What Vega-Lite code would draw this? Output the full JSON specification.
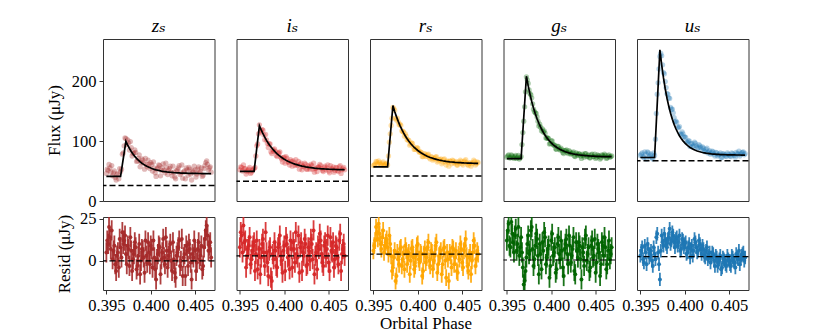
{
"$schema":"https://vega.github.io/schema/vega-lite/v6.json",
"padding":{"left":45,"top":17,"right":5,"bottom":5},
"config":{
 "font":"Liberation Serif, Times New Roman, DejaVu Serif, serif",
 "view":{"stroke":"#333","strokeWidth":1},
 "axis":{"grid":false,"domain":false,"tickColor":"#333","tickSize":4,"tickWidth":1,"labelFont":"Liberation Serif, Times New Roman, DejaVu Serif, serif","labelFontSize":16.5,"labelColor":"#000","titleFont":"Liberation Serif, Times New Roman, DejaVu Serif, serif","titleFontSize":17,"titleFontWeight":"normal","titleColor":"#000","labelPadding":3}
},
"datasets":{
"bands":[{"b":"z","d":26,"rd":0,"err":6},{"b":"i","d":33,"rd":3,"err":6},{"b":"r","d":41.5,"rd":4,"err":5},{"b":"g","d":53.5,"rd":0.5,"err":6},{"b":"u","d":67,"rd":2.5,"err":4}],
"obs":[
{"b":"z","p":0.395,"m":41,"f":46,"r":5},{"b":"z","p":0.3952,"m":41,"f":51,"r":10},{"b":"z","p":0.3954,"m":41,"f":55,"r":14},{"b":"z","p":0.3956,"m":41,"f":59,"r":18},{"b":"z","p":0.3958,"m":41,"f":47,"r":6},{"b":"z","p":0.396,"m":41,"f":39,"r":-2},{"b":"z","p":0.3962,"m":41,"f":44,"r":3},{"b":"z","p":0.3964,"m":41,"f":37,"r":-4},{"b":"z","p":0.3966,"m":41,"f":49,"r":8},{"b":"z","p":0.3968,"m":60.5,"f":78,"r":17},
{"b":"z","p":0.397,"m":80,"f":92,"r":12},{"b":"z","p":0.3972,"m":99.5,"f":104,"r":4},{"b":"z","p":0.3974,"m":93.2,"f":102,"r":9},{"b":"z","p":0.3976,"m":87.6,"f":85,"r":-3},{"b":"z","p":0.3978,"m":82.6,"f":89,"r":6},{"b":"z","p":0.398,"m":78.3,"f":79,"r":1},{"b":"z","p":0.3982,"m":74.4,"f":85,"r":11},{"b":"z","p":0.3984,"m":71,"f":66,"r":-5},{"b":"z","p":0.3986,"m":68,"f":71,"r":3},{"b":"z","p":0.3988,"m":65.4,"f":57,"r":-8},
{"b":"z","p":0.399,"m":63,"f":70,"r":7},{"b":"z","p":0.3992,"m":61,"f":63,"r":2},{"b":"z","p":0.3994,"m":59.2,"f":71,"r":12},{"b":"z","p":0.3996,"m":57.5,"f":57,"r":-1},{"b":"z","p":0.3998,"m":56.1,"f":61,"r":5},{"b":"z","p":0.4,"m":54.9,"f":64,"r":9},{"b":"z","p":0.4002,"m":53.8,"f":50,"r":-4},{"b":"z","p":0.4004,"m":52.8,"f":55,"r":2},{"b":"z","p":0.4006,"m":51.9,"f":41,"r":-11},{"b":"z","p":0.4008,"m":51.2,"f":55,"r":4},
{"b":"z","p":0.401,"m":50.5,"f":59,"r":8},{"b":"z","p":0.4012,"m":49.9,"f":51,"r":1},{"b":"z","p":0.4014,"m":49.4,"f":62,"r":13},{"b":"z","p":0.4016,"m":49,"f":47,"r":-2},{"b":"z","p":0.4018,"m":48.5,"f":55,"r":6},{"b":"z","p":0.402,"m":48.2,"f":51,"r":3},{"b":"z","p":0.4022,"m":47.9,"f":58,"r":10},{"b":"z","p":0.4024,"m":47.6,"f":42,"r":-6},{"b":"z","p":0.4026,"m":47.3,"f":48,"r":1},{"b":"z","p":0.4028,"m":47.1,"f":37,"r":-10},
{"b":"z","p":0.403,"m":46.9,"f":52,"r":5},{"b":"z","p":0.4032,"m":46.8,"f":59,"r":12},{"b":"z","p":0.4034,"m":46.6,"f":47,"r":0},{"b":"z","p":0.4036,"m":46.5,"f":38,"r":-9},{"b":"z","p":0.4038,"m":46.4,"f":50,"r":4},{"b":"z","p":0.404,"m":46.3,"f":55,"r":9},{"b":"z","p":0.4042,"m":46.2,"f":43,"r":-3},{"b":"z","p":0.4044,"m":46.1,"f":53,"r":7},{"b":"z","p":0.4046,"m":46,"f":35,"r":-11},{"b":"z","p":0.4048,"m":46,"f":48,"r":2},
{"b":"z","p":0.405,"m":45.9,"f":52,"r":6},{"b":"z","p":0.4052,"m":45.9,"f":45,"r":-1},{"b":"z","p":0.4054,"m":45.8,"f":57,"r":11},{"b":"z","p":0.4056,"m":45.8,"f":49,"r":3},{"b":"z","p":0.4058,"m":45.7,"f":41,"r":-5},{"b":"z","p":0.406,"m":45.7,"f":54,"r":8},{"b":"z","p":0.4062,"m":45.7,"f":64,"r":18},{"b":"z","p":0.4064,"m":45.7,"f":61,"r":15},{"b":"z","p":0.4066,"m":45.6,"f":55,"r":9},{"b":"z","p":0.4068,"m":45.6,"f":48,"r":2},
{"b":"z","p":0.3951,"f":53,"r":12},{"b":"z","p":0.3953,"f":61,"r":20},{"b":"z","p":0.3955,"f":48,"r":7},{"b":"z","p":0.3957,"f":42,"r":1},{"b":"z","p":0.3959,"f":50,"r":9},{"b":"z","p":0.3961,"f":35,"r":-6},{"b":"z","p":0.3963,"f":46,"r":5},{"b":"z","p":0.3965,"f":54,"r":13},{"b":"z","p":0.3967,"f":53,"r":2},{"b":"z","p":0.3969,"f":80,"r":10},
{"b":"z","p":0.3971,"f":105,"r":15},{"b":"z","p":0.3973,"f":94,"r":-2},{"b":"z","p":0.3975,"f":97,"r":7},{"b":"z","p":0.3977,"f":99,"r":14},{"b":"z","p":0.3979,"f":75,"r":-6},{"b":"z","p":0.3981,"f":80,"r":4},{"b":"z","p":0.3983,"f":81,"r":8},{"b":"z","p":0.3985,"f":67,"r":-3},{"b":"z","p":0.3987,"f":77,"r":10},{"b":"z","p":0.3989,"f":64,"r":0},
{"b":"z","p":0.3991,"f":68,"r":6},{"b":"z","p":0.3993,"f":53,"r":-7},{"b":"z","p":0.3995,"f":61,"r":3},{"b":"z","p":0.3997,"f":68,"r":11},{"b":"z","p":0.3999,"f":54,"r":-2},{"b":"z","p":0.4001,"f":61,"r":7},{"b":"z","p":0.4003,"f":65,"r":12},{"b":"z","p":0.4005,"f":47,"r":-5},{"b":"z","p":0.4007,"f":53,"r":1},{"b":"z","p":0.4009,"f":60,"r":9},
{"b":"z","p":0.4011,"f":42,"r":-8},{"b":"z","p":0.4013,"f":55,"r":5},{"b":"z","p":0.4015,"f":51,"r":2},{"b":"z","p":0.4017,"f":63,"r":14},{"b":"z","p":0.4019,"f":44,"r":-4},{"b":"z","p":0.4021,"f":54,"r":6},{"b":"z","p":0.4023,"f":48,"r":0},{"b":"z","p":0.4025,"f":58,"r":11},{"b":"z","p":0.4027,"f":40,"r":-7},{"b":"z","p":0.4029,"f":50,"r":3},
{"b":"z","p":0.4031,"f":55,"r":8},{"b":"z","p":0.4033,"f":44,"r":-3},{"b":"z","p":0.4035,"f":60,"r":13},{"b":"z","p":0.4037,"f":48,"r":2},{"b":"z","p":0.4039,"f":37,"r":-9},{"b":"z","p":0.4041,"f":52,"r":6},{"b":"z","p":0.4043,"f":56,"r":10},{"b":"z","p":0.4045,"f":45,"r":-1},{"b":"z","p":0.4047,"f":50,"r":4},{"b":"z","p":0.4049,"f":58,"r":12},
{"b":"z","p":0.4051,"f":40,"r":-6},{"b":"z","p":0.4053,"f":53,"r":7},{"b":"z","p":0.4055,"f":47,"r":1},{"b":"z","p":0.4057,"f":55,"r":9},{"b":"z","p":0.4059,"f":43,"r":-3},{"b":"z","p":0.4061,"f":59,"r":13},{"b":"z","p":0.4063,"f":67,"r":21},{"b":"z","p":0.4065,"f":52,"r":6},{"b":"z","p":0.4067,"f":57,"r":11},

{"b":"i","p":0.395,"m":49.5,"f":52,"r":8},{"b":"i","p":0.3952,"m":49.5,"f":56,"r":15},{"b":"i","p":0.3954,"m":49.5,"f":60,"r":21},{"b":"i","p":0.3956,"m":49.5,"f":54,"r":12},{"b":"i","p":0.3958,"m":49.5,"f":49,"r":3},{"b":"i","p":0.396,"m":49.5,"f":53,"r":9},{"b":"i","p":0.3962,"m":49.5,"f":46,"r":-2},{"b":"i","p":0.3964,"m":49.5,"f":51,"r":6},{"b":"i","p":0.3966,"m":49.5,"f":54,"r":11},{"b":"i","p":0.3968,"m":74.8,"f":75,"r":4},
{"b":"i","p":0.397,"m":100.2,"f":95,"r":-5},{"b":"i","p":0.3972,"m":125.5,"f":127,"r":7},{"b":"i","p":0.3974,"m":118.5,"f":117,"r":2},{"b":"i","p":0.3976,"m":112.1,"f":118,"r":13},{"b":"i","p":0.3978,"m":106.3,"f":102,"r":-3},{"b":"i","p":0.398,"m":101.1,"f":102,"r":5},{"b":"i","p":0.3982,"m":96.4,"f":89,"r":-9},{"b":"i","p":0.3984,"m":92.1,"f":95,"r":8},{"b":"i","p":0.3986,"m":88.2,"f":79,"r":-12},{"b":"i","p":0.3988,"m":84.7,"f":83,"r":1},
{"b":"i","p":0.399,"m":81.6,"f":83,"r":6},{"b":"i","p":0.3992,"m":78.7,"f":74,"r":-4},{"b":"i","p":0.3994,"m":76.1,"f":80,"r":10},{"b":"i","p":0.3996,"m":73.8,"f":73,"r":3},{"b":"i","p":0.3998,"m":71.7,"f":65,"r":-7},{"b":"i","p":0.4,"m":69.7,"f":73,"r":9},{"b":"i","p":0.4002,"m":68,"f":74,"r":14},{"b":"i","p":0.4004,"m":66.4,"f":65,"r":2},{"b":"i","p":0.4006,"m":65,"f":60,"r":-5},{"b":"i","p":0.4008,"m":63.7,"f":66,"r":7},
{"b":"i","p":0.401,"m":62.6,"f":67,"r":11},{"b":"i","p":0.4012,"m":61.5,"f":59,"r":-1},{"b":"i","p":0.4014,"m":60.6,"f":61,"r":4},{"b":"i","p":0.4016,"m":59.7,"f":66,"r":15},{"b":"i","p":0.4018,"m":58.9,"f":61,"r":8},{"b":"i","p":0.402,"m":58.2,"f":52,"r":-6},{"b":"i","p":0.4022,"m":57.6,"f":57,"r":3},{"b":"i","p":0.4024,"m":57,"f":61,"r":10},{"b":"i","p":0.4026,"m":56.5,"f":53,"r":-2},{"b":"i","p":0.4028,"m":56,"f":57,"r":6},
{"b":"i","p":0.403,"m":55.6,"f":61,"r":13},{"b":"i","p":0.4032,"m":55.2,"f":53,"r":1},{"b":"i","p":0.4034,"m":54.8,"f":48,"r":-8},{"b":"i","p":0.4036,"m":54.5,"f":55,"r":5},{"b":"i","p":0.4038,"m":54.2,"f":57,"r":9},{"b":"i","p":0.404,"m":54,"f":61,"r":16},{"b":"i","p":0.4042,"m":53.7,"f":54,"r":4},{"b":"i","p":0.4044,"m":53.5,"f":49,"r":-3},{"b":"i","p":0.4046,"m":53.3,"f":58,"r":11},{"b":"i","p":0.4048,"m":53.2,"f":55,"r":7},
{"b":"i","p":0.405,"m":53,"f":50,"r":-1},{"b":"i","p":0.4052,"m":52.9,"f":59,"r":14},{"b":"i","p":0.4054,"m":52.7,"f":53,"r":5},{"b":"i","p":0.4056,"m":52.6,"f":48,"r":-4},{"b":"i","p":0.4058,"m":52.5,"f":56,"r":9},{"b":"i","p":0.406,"m":52.4,"f":51,"r":2},{"b":"i","p":0.4062,"m":52.3,"f":57,"r":12},{"b":"i","p":0.4064,"m":52.2,"f":46,"r":-6},{"b":"i","p":0.4066,"m":52.2,"f":54,"r":7},{"b":"i","p":0.4068,"m":52.1,"f":52,"r":3},
{"b":"i","p":0.3951,"f":57,"r":17},{"b":"i","p":0.3953,"f":50,"r":5},{"b":"i","p":0.3955,"f":54,"r":11},{"b":"i","p":0.3957,"f":45,"r":-4},{"b":"i","p":0.3959,"f":51,"r":7},{"b":"i","p":0.3961,"f":56,"r":14},{"b":"i","p":0.3963,"f":48,"r":1},{"b":"i","p":0.3965,"f":53,"r":9},{"b":"i","p":0.3967,"f":56,"r":-6},{"b":"i","p":0.3969,"f":92,"r":12},
{"b":"i","p":0.3971,"f":112,"r":3},{"b":"i","p":0.3973,"f":115,"r":-8},{"b":"i","p":0.3975,"f":119,"r":10},{"b":"i","p":0.3977,"f":110,"r":5},{"b":"i","p":0.3979,"f":111,"r":17},{"b":"i","p":0.3981,"f":96,"r":-1},{"b":"i","p":0.3983,"f":95,"r":6},{"b":"i","p":0.3985,"f":82,"r":-10},{"b":"i","p":0.3987,"f":86,"r":4},{"b":"i","p":0.3989,"f":87,"r":11},
{"b":"i","p":0.3991,"f":76,"r":-3},{"b":"i","p":0.3993,"f":80,"r":8},{"b":"i","p":0.3995,"f":82,"r":15},{"b":"i","p":0.3997,"f":70,"r":0},{"b":"i","p":0.3999,"f":72,"r":6},{"b":"i","p":0.4001,"f":63,"r":-6},{"b":"i","p":0.4003,"f":71,"r":10},{"b":"i","p":0.4005,"f":65,"r":3},{"b":"i","p":0.4007,"f":69,"r":12},{"b":"i","p":0.4009,"f":58,"r":-4},
{"b":"i","p":0.4011,"f":64,"r":7},{"b":"i","p":0.4013,"f":69,"r":17},{"b":"i","p":0.4015,"f":59,"r":2},{"b":"i","p":0.4017,"f":53,"r":-7},{"b":"i","p":0.4019,"f":63,"r":11},{"b":"i","p":0.4021,"f":58,"r":5},{"b":"i","p":0.4023,"f":63,"r":13},{"b":"i","p":0.4025,"f":53,"r":-3},{"b":"i","p":0.4027,"f":59,"r":8},{"b":"i","p":0.4029,"f":53,"r":0},
{"b":"i","p":0.4031,"f":59,"r":10},{"b":"i","p":0.4033,"f":63,"r":18},{"b":"i","p":0.4035,"f":54,"r":3},{"b":"i","p":0.4037,"f":49,"r":-5},{"b":"i","p":0.4039,"f":56,"r":7},{"b":"i","p":0.4041,"f":59,"r":12},{"b":"i","p":0.4043,"f":51,"r":-1},{"b":"i","p":0.4045,"f":56,"r":9},{"b":"i","p":0.4047,"f":52,"r":2},{"b":"i","p":0.4049,"f":60,"r":15},
{"b":"i","p":0.4051,"f":47,"r":-6},{"b":"i","p":0.4053,"f":54,"r":6},{"b":"i","p":0.4055,"f":57,"r":11},{"b":"i","p":0.4057,"f":51,"r":1},{"b":"i","p":0.4059,"f":55,"r":8},{"b":"i","p":0.4061,"f":49,"r":-2},{"b":"i","p":0.4063,"f":59,"r":16},{"b":"i","p":0.4065,"f":52,"r":4},{"b":"i","p":0.4067,"f":56,"r":10},

{"b":"r","p":0.395,"m":57,"f":59,"r":6},{"b":"r","p":0.3952,"m":57,"f":62,"r":12},{"b":"r","p":0.3954,"m":57,"f":65,"r":17},{"b":"r","p":0.3956,"m":57,"f":67,"r":22},{"b":"r","p":0.3958,"m":57,"f":61,"r":10},{"b":"r","p":0.396,"m":57,"f":63,"r":14},{"b":"r","p":0.3962,"m":57,"f":59,"r":5},{"b":"r","p":0.3964,"m":57,"f":62,"r":11},{"b":"r","p":0.3966,"m":57,"f":60,"r":8},{"b":"r","p":0.3968,"m":91,"f":98,"r":15},
{"b":"r","p":0.397,"m":125,"f":126,"r":3},{"b":"r","p":0.3972,"m":159,"f":156,"r":-4},{"b":"r","p":0.3974,"m":149.3,"f":151,"r":6},{"b":"r","p":0.3976,"m":140.6,"f":135,"r":-9},{"b":"r","p":0.3978,"m":132.7,"f":132,"r":1},{"b":"r","p":0.398,"m":125.7,"f":128,"r":7},{"b":"r","p":0.3982,"m":119.3,"f":117,"r":-3},{"b":"r","p":0.3984,"m":113.6,"f":115,"r":4},{"b":"r","p":0.3986,"m":108.4,"f":112,"r":9},{"b":"r","p":0.3988,"m":103.8,"f":102,"r":-2},
{"b":"r","p":0.399,"m":99.6,"f":101,"r":5},{"b":"r","p":0.3992,"m":95.9,"f":95,"r":0},{"b":"r","p":0.3994,"m":92.5,"f":96,"r":8},{"b":"r","p":0.3996,"m":89.4,"f":86,"r":-5},{"b":"r","p":0.3998,"m":86.7,"f":87,"r":3},{"b":"r","p":0.4,"m":84.2,"f":88,"r":10},{"b":"r","p":0.4002,"m":82,"f":81,"r":-1},{"b":"r","p":0.4004,"m":80,"f":81,"r":4},{"b":"r","p":0.4006,"m":78.2,"f":74,"r":-6},{"b":"r","p":0.4008,"m":76.6,"f":79,"r":7},
{"b":"r","p":0.401,"m":75.1,"f":75,"r":2},{"b":"r","p":0.4012,"m":73.8,"f":78,"r":11},{"b":"r","p":0.4014,"m":72.6,"f":70,"r":-3},{"b":"r","p":0.4016,"m":71.6,"f":73,"r":5},{"b":"r","p":0.4018,"m":70.6,"f":70,"r":0},{"b":"r","p":0.402,"m":69.8,"f":73,"r":9},{"b":"r","p":0.4022,"m":69,"f":65,"r":-7},{"b":"r","p":0.4024,"m":68.3,"f":69,"r":3},{"b":"r","p":0.4026,"m":67.7,"f":70,"r":6},{"b":"r","p":0.4028,"m":67.1,"f":65,"r":-2},
{"b":"r","p":0.403,"m":66.6,"f":70,"r":8},{"b":"r","p":0.4032,"m":66.1,"f":60,"r":-10},{"b":"r","p":0.4034,"m":65.7,"f":65,"r":1},{"b":"r","p":0.4036,"m":65.3,"f":67,"r":5},{"b":"r","p":0.4038,"m":65,"f":62,"r":-4},{"b":"r","p":0.404,"m":64.7,"f":67,"r":7},{"b":"r","p":0.4042,"m":64.4,"f":64,"r":2},{"b":"r","p":0.4044,"m":64.2,"f":60,"r":-6},{"b":"r","p":0.4046,"m":64,"f":65,"r":4},{"b":"r","p":0.4048,"m":63.8,"f":68,"r":10},
{"b":"r","p":0.405,"m":63.6,"f":62,"r":-1},{"b":"r","p":0.4052,"m":63.4,"f":65,"r":6},{"b":"r","p":0.4054,"m":63.3,"f":69,"r":13},{"b":"r","p":0.4056,"m":63.2,"f":61,"r":-3},{"b":"r","p":0.4058,"m":63,"f":63,"r":2},{"b":"r","p":0.406,"m":63,"f":58,"r":-8},{"b":"r","p":0.4062,"m":62.9,"f":64,"r":5},{"b":"r","p":0.4064,"m":62.8,"f":66,"r":9},{"b":"r","p":0.4066,"m":62.7,"f":62,"r":1},{"b":"r","p":0.4068,"m":62.6,"f":64,"r":4},
{"b":"r","p":0.3951,"f":60,"r":9},{"b":"r","p":0.3953,"f":66,"r":20},{"b":"r","p":0.3955,"f":62,"r":13},{"b":"r","p":0.3957,"f":64,"r":16},{"b":"r","p":0.3959,"f":60,"r":7},{"b":"r","p":0.3961,"f":65,"r":18},{"b":"r","p":0.3963,"f":61,"r":9},{"b":"r","p":0.3965,"f":63,"r":13},{"b":"r","p":0.3967,"f":75,"r":4},{"b":"r","p":0.3969,"f":112,"r":10},
{"b":"r","p":0.3971,"f":138,"r":-6},{"b":"r","p":0.3973,"f":154,"r":2},{"b":"r","p":0.3975,"f":138,"r":-12},{"b":"r","p":0.3977,"f":138,"r":5},{"b":"r","p":0.3979,"f":127,"r":-2},{"b":"r","p":0.3981,"f":126,"r":8},{"b":"r","p":0.3983,"f":116,"r":1},{"b":"r","p":0.3985,"f":108,"r":-5},{"b":"r","p":0.3987,"f":108,"r":6},{"b":"r","p":0.3989,"f":102,"r":3},
{"b":"r","p":0.3991,"f":93,"r":-8},{"b":"r","p":0.3993,"f":97,"r":7},{"b":"r","p":0.3995,"f":91,"r":2},{"b":"r","p":0.3997,"f":86,"r":-3},{"b":"r","p":0.3999,"f":89,"r":9},{"b":"r","p":0.4001,"f":83,"r":1},{"b":"r","p":0.4003,"f":82,"r":5},{"b":"r","p":0.4005,"f":74,"r":-9},{"b":"r","p":0.4007,"f":78,"r":4},{"b":"r","p":0.4009,"f":74,"r":-1},
{"b":"r","p":0.4011,"f":77,"r":8},{"b":"r","p":0.4013,"f":72,"r":0},{"b":"r","p":0.4015,"f":74,"r":6},{"b":"r","p":0.4017,"f":68,"r":-5},{"b":"r","p":0.4019,"f":71,"r":3},{"b":"r","p":0.4021,"f":74,"r":11},{"b":"r","p":0.4023,"f":67,"r":-2},{"b":"r","p":0.4025,"f":69,"r":4},{"b":"r","p":0.4027,"f":62,"r":-8},{"b":"r","p":0.4029,"f":69,"r":7},
{"b":"r","p":0.4031,"f":65,"r":0},{"b":"r","p":0.4033,"f":67,"r":5},{"b":"r","p":0.4035,"f":58,"r":-12},{"b":"r","p":0.4037,"f":66,"r":3},{"b":"r","p":0.4039,"f":68,"r":8},{"b":"r","p":0.4041,"f":63,"r":-2},{"b":"r","p":0.4043,"f":66,"r":6},{"b":"r","p":0.4045,"f":60,"r":-7},{"b":"r","p":0.4047,"f":63,"r":1},{"b":"r","p":0.4049,"f":66,"r":7},
{"b":"r","p":0.4051,"f":60,"r":-4},{"b":"r","p":0.4053,"f":67,"r":9},{"b":"r","p":0.4055,"f":64,"r":3},{"b":"r","p":0.4057,"f":59,"r":-6},{"b":"r","p":0.4059,"f":64,"r":5},{"b":"r","p":0.4061,"f":62,"r":0},{"b":"r","p":0.4063,"f":68,"r":12},{"b":"r","p":0.4065,"f":60,"r":-3},{"b":"r","p":0.4067,"f":65,"r":6},

{"b":"g","p":0.395,"m":70.5,"f":73,"r":12},{"b":"g","p":0.3952,"m":70.5,"f":77,"r":22},{"b":"g","p":0.3954,"m":70.5,"f":72,"r":8},{"b":"g","p":0.3956,"m":70.5,"f":75,"r":16},{"b":"g","p":0.3958,"m":70.5,"f":71,"r":5},{"b":"g","p":0.396,"m":70.5,"f":76,"r":19},{"b":"g","p":0.3962,"m":70.5,"f":73,"r":10},{"b":"g","p":0.3964,"m":70.5,"f":70,"r":3},{"b":"g","p":0.3966,"m":70.5,"f":74,"r":14},{"b":"g","p":0.3968,"m":116.3,"f":114,"r":-4},
{"b":"g","p":0.397,"m":162.2,"f":157,"r":-12},{"b":"g","p":0.3972,"m":208,"f":207,"r":2},{"b":"g","p":0.3974,"m":192.2,"f":196,"r":15},{"b":"g","p":0.3976,"m":178.2,"f":179,"r":6},{"b":"g","p":0.3978,"m":165.9,"f":172,"r":20},{"b":"g","p":0.398,"m":155.1,"f":153,"r":-3},{"b":"g","p":0.3982,"m":145.5,"f":147,"r":9},{"b":"g","p":0.3984,"m":137,"f":140,"r":13},{"b":"g","p":0.3986,"m":129.6,"f":125,"r":-8},{"b":"g","p":0.3988,"m":123,"f":123,"r":4},
{"b":"g","p":0.399,"m":117.2,"f":120,"r":11},{"b":"g","p":0.3992,"m":112,"f":117,"r":17},{"b":"g","p":0.3994,"m":107.5,"f":105,"r":-2},{"b":"g","p":0.3996,"m":103.5,"f":105,"r":7},{"b":"g","p":0.3998,"m":100,"f":95,"r":-10},{"b":"g","p":0.4,"m":96.9,"f":100,"r":12},{"b":"g","p":0.4002,"m":94.1,"f":94,"r":3},{"b":"g","p":0.4004,"m":91.7,"f":93,"r":8},{"b":"g","p":0.4006,"m":89.6,"f":86,"r":-5},{"b":"g","p":0.4008,"m":87.7,"f":91,"r":14},
{"b":"g","p":0.401,"m":86,"f":85,"r":1},{"b":"g","p":0.4012,"m":84.5,"f":85,"r":6},{"b":"g","p":0.4014,"m":83.2,"f":79,"r":-9},{"b":"g","p":0.4016,"m":82.1,"f":84,"r":10},{"b":"g","p":0.4018,"m":81.1,"f":81,"r":4},{"b":"g","p":0.402,"m":80.2,"f":84,"r":15},{"b":"g","p":0.4022,"m":79.4,"f":78,"r":-1},{"b":"g","p":0.4024,"m":78.7,"f":80,"r":7},{"b":"g","p":0.4026,"m":78.1,"f":75,"r":-6},{"b":"g","p":0.4028,"m":77.6,"f":80,"r":11},
{"b":"g","p":0.403,"m":77.1,"f":76,"r":2},{"b":"g","p":0.4032,"m":76.7,"f":78,"r":9},{"b":"g","p":0.4034,"m":76.3,"f":71,"r":-11},{"b":"g","p":0.4036,"m":76,"f":76,"r":5},{"b":"g","p":0.4038,"m":75.7,"f":79,"r":13},{"b":"g","p":0.404,"m":75.4,"f":74,"r":0},{"b":"g","p":0.4042,"m":75.2,"f":77,"r":8},{"b":"g","p":0.4044,"m":75,"f":72,"r":-4},{"b":"g","p":0.4046,"m":74.8,"f":78,"r":12},{"b":"g","p":0.4048,"m":74.7,"f":74,"r":3},
{"b":"g","p":0.405,"m":74.5,"f":71,"r":-7},{"b":"g","p":0.4052,"m":74.4,"f":77,"r":10},{"b":"g","p":0.4054,"m":74.3,"f":75,"r":5},{"b":"g","p":0.4056,"m":74.2,"f":72,"r":-2},{"b":"g","p":0.4058,"m":74.1,"f":76,"r":9},{"b":"g","p":0.406,"m":74.1,"f":78,"r":14},{"b":"g","p":0.4062,"m":74,"f":71,"r":-5},{"b":"g","p":0.4064,"m":73.9,"f":75,"r":6},{"b":"g","p":0.4066,"m":73.9,"f":73,"r":1},{"b":"g","p":0.4068,"m":73.8,"f":75,"r":8},
{"b":"g","p":0.3951,"f":75,"r":18},{"b":"g","p":0.3953,"f":72,"r":9},{"b":"g","p":0.3955,"f":77,"r":23},{"b":"g","p":0.3957,"f":73,"r":11},{"b":"g","p":0.3959,"f":74,"r":15},{"b":"g","p":0.3961,"f":71,"r":6},{"b":"g","p":0.3963,"f":76,"r":20},{"b":"g","p":0.3965,"f":72,"r":8},{"b":"g","p":0.3967,"f":94,"r":5},{"b":"g","p":0.3969,"f":133,"r":-14},
{"b":"g","p":0.3971,"f":182,"r":-6},{"b":"g","p":0.3973,"f":202,"r":10},{"b":"g","p":0.3975,"f":185,"r":4},{"b":"g","p":0.3977,"f":177,"r":18},{"b":"g","p":0.3979,"f":162,"r":7},{"b":"g","p":0.3981,"f":149,"r":1},{"b":"g","p":0.3983,"f":146,"r":16},{"b":"g","p":0.3985,"f":133,"r":3},{"b":"g","p":0.3987,"f":128,"r":10},{"b":"g","p":0.3989,"f":117,"r":-5},
{"b":"g","p":0.3991,"f":115,"r":6},{"b":"g","p":0.3993,"f":113,"r":14},{"b":"g","p":0.3995,"f":105,"r":2},{"b":"g","p":0.3997,"f":104,"r":9},{"b":"g","p":0.3999,"f":96,"r":-3},{"b":"g","p":0.4001,"f":100,"r":16},{"b":"g","p":0.4003,"f":93,"r":5},{"b":"g","p":0.4005,"f":87,"r":-7},{"b":"g","p":0.4007,"f":91,"r":10},{"b":"g","p":0.4009,"f":87,"r":4},
{"b":"g","p":0.4011,"f":88,"r":12},{"b":"g","p":0.4013,"f":81,"r":-4},{"b":"g","p":0.4015,"f":84,"r":7},{"b":"g","p":0.4017,"f":85,"r":13},{"b":"g","p":0.4019,"f":79,"r":-2},{"b":"g","p":0.4021,"f":82,"r":9},{"b":"g","p":0.4023,"f":79,"r":3},{"b":"g","p":0.4025,"f":82,"r":14},{"b":"g","p":0.4027,"f":74,"r":-8},{"b":"g","p":0.4029,"f":78,"r":6},
{"b":"g","p":0.4031,"f":79,"r":11},{"b":"g","p":0.4033,"f":75,"r":1},{"b":"g","p":0.4035,"f":78,"r":8},{"b":"g","p":0.4037,"f":73,"r":-3},{"b":"g","p":0.4039,"f":79,"r":15},{"b":"g","p":0.4041,"f":75,"r":4},{"b":"g","p":0.4043,"f":72,"r":-6},{"b":"g","p":0.4045,"f":77,"r":9},{"b":"g","p":0.4047,"f":74,"r":2},{"b":"g","p":0.4049,"f":78,"r":13},
{"b":"g","p":0.4051,"f":73,"r":-1},{"b":"g","p":0.4053,"f":75,"r":7},{"b":"g","p":0.4055,"f":70,"r":-9},{"b":"g","p":0.4057,"f":77,"r":11},{"b":"g","p":0.4059,"f":74,"r":3},{"b":"g","p":0.4061,"f":76,"r":8},{"b":"g","p":0.4063,"f":72,"r":-2},{"b":"g","p":0.4065,"f":77,"r":12},{"b":"g","p":0.4067,"f":74,"r":4},

{"b":"u","p":0.395,"m":72.5,"f":76,"r":3},{"b":"u","p":0.3952,"m":72.5,"f":80,"r":8},{"b":"u","p":0.3954,"m":72.5,"f":72,"r":-1},{"b":"u","p":0.3956,"m":72.5,"f":78,"r":5},{"b":"u","p":0.3958,"m":72.5,"f":82,"r":10},{"b":"u","p":0.396,"m":72.5,"f":74,"r":2},{"b":"u","p":0.3962,"m":72.5,"f":78,"r":6},{"b":"u","p":0.3964,"m":72.5,"f":70,"r":-3},{"b":"u","p":0.3966,"m":72.5,"f":76,"r":4},{"b":"u","p":0.3968,"m":132.3,"f":146,"r":14},
{"b":"u","p":0.397,"m":192.2,"f":197,"r":5},{"b":"u","p":0.3972,"m":252,"f":241,"r":-11},{"b":"u","p":0.3974,"m":227,"f":242,"r":15},{"b":"u","p":0.3976,"m":205.5,"f":214,"r":9},{"b":"u","p":0.3978,"m":187.1,"f":199,"r":12},{"b":"u","p":0.398,"m":171.3,"f":179,"r":8},{"b":"u","p":0.3982,"m":157.8,"f":172,"r":14},{"b":"u","p":0.3984,"m":146.2,"f":156,"r":10},{"b":"u","p":0.3986,"m":136.3,"f":153,"r":17},{"b":"u","p":0.3988,"m":127.7,"f":139,"r":11},
{"b":"u","p":0.399,"m":120.4,"f":133,"r":13},{"b":"u","p":0.3992,"m":114.2,"f":123,"r":9},{"b":"u","p":0.3994,"m":108.8,"f":124,"r":15},{"b":"u","p":0.3996,"m":104.2,"f":111,"r":7},{"b":"u","p":0.3998,"m":100.2,"f":112,"r":12},{"b":"u","p":0.4,"m":96.9,"f":107,"r":10},{"b":"u","p":0.4002,"m":94,"f":98,"r":4},{"b":"u","p":0.4004,"m":91.5,"f":100,"r":8},{"b":"u","p":0.4006,"m":89.3,"f":91,"r":2},{"b":"u","p":0.4008,"m":87.5,"f":96,"r":9},
{"b":"u","p":0.401,"m":85.9,"f":92,"r":6},{"b":"u","p":0.4012,"m":84.6,"f":96,"r":11},{"b":"u","p":0.4014,"m":83.4,"f":88,"r":5},{"b":"u","p":0.4016,"m":82.4,"f":94,"r":12},{"b":"u","p":0.4018,"m":81.6,"f":89,"r":7},{"b":"u","p":0.402,"m":80.9,"f":90,"r":9},{"b":"u","p":0.4022,"m":80.3,"f":83,"r":3},{"b":"u","p":0.4024,"m":79.7,"f":86,"r":6},{"b":"u","p":0.4026,"m":79.3,"f":80,"r":1},{"b":"u","p":0.4028,"m":78.9,"f":84,"r":5},
{"b":"u","p":0.403,"m":78.5,"f":80,"r":2},{"b":"u","p":0.4032,"m":78.2,"f":82,"r":4},{"b":"u","p":0.4034,"m":78,"f":75,"r":-3},{"b":"u","p":0.4036,"m":77.8,"f":80,"r":2},{"b":"u","p":0.4038,"m":77.6,"f":77,"r":-1},{"b":"u","p":0.404,"m":77.4,"f":80,"r":3},{"b":"u","p":0.4042,"m":77.3,"f":73,"r":-4},{"b":"u","p":0.4044,"m":77.2,"f":78,"r":1},{"b":"u","p":0.4046,"m":77.1,"f":75,"r":-2},{"b":"u","p":0.4048,"m":77,"f":80,"r":3},
{"b":"u","p":0.405,"m":76.9,"f":77,"r":0},{"b":"u","p":0.4052,"m":76.9,"f":74,"r":-3},{"b":"u","p":0.4054,"m":76.8,"f":79,"r":2},{"b":"u","p":0.4056,"m":76.8,"f":76,"r":-1},{"b":"u","p":0.4058,"m":76.7,"f":81,"r":4},{"b":"u","p":0.406,"m":76.7,"f":78,"r":1},{"b":"u","p":0.4062,"m":76.7,"f":75,"r":-2},{"b":"u","p":0.4064,"m":76.6,"f":80,"r":3},{"b":"u","p":0.4066,"m":76.6,"f":82,"r":5},{"b":"u","p":0.4068,"m":76.6,"f":79,"r":2},
{"b":"u","p":0.3951,"f":78,"r":6},{"b":"u","p":0.3953,"f":74,"r":1},{"b":"u","p":0.3955,"f":82,"r":9},{"b":"u","p":0.3957,"f":70,"r":-2},{"b":"u","p":0.3959,"f":80,"r":7},{"b":"u","p":0.3961,"f":76,"r":4},{"b":"u","p":0.3963,"f":72,"r":0},{"b":"u","p":0.3965,"f":80,"r":8},{"b":"u","p":0.3967,"f":103,"r":1},{"b":"u","p":0.3969,"f":178,"r":16},
{"b":"u","p":0.3971,"f":220,"r":-2},{"b":"u","p":0.3973,"f":246,"r":6},{"b":"u","p":0.3975,"f":227,"r":11},{"b":"u","p":0.3977,"f":212,"r":16},{"b":"u","p":0.3979,"f":189,"r":10},{"b":"u","p":0.3981,"f":178,"r":13},{"b":"u","p":0.3983,"f":171,"r":19},{"b":"u","p":0.3985,"f":153,"r":12},{"b":"u","p":0.3987,"f":147,"r":15},{"b":"u","p":0.3989,"f":132,"r":8},
{"b":"u","p":0.3991,"f":131,"r":14},{"b":"u","p":0.3993,"f":122,"r":11},{"b":"u","p":0.3995,"f":112,"r":6},{"b":"u","p":0.3997,"f":115,"r":13},{"b":"u","p":0.3999,"f":107,"r":8},{"b":"u","p":0.4001,"f":106,"r":11},{"b":"u","p":0.4003,"f":98,"r":5},{"b":"u","p":0.4005,"f":100,"r":10},{"b":"u","p":0.4007,"f":95,"r":7},{"b":"u","p":0.4009,"f":90,"r":3},
{"b":"u","p":0.4011,"f":98,"r":13},{"b":"u","p":0.4013,"f":92,"r":8},{"b":"u","p":0.4015,"f":89,"r":6},{"b":"u","p":0.4017,"f":92,"r":10},{"b":"u","p":0.4019,"f":85,"r":4},{"b":"u","p":0.4021,"f":88,"r":7},{"b":"u","p":0.4023,"f":82,"r":2},{"b":"u","p":0.4025,"f":88,"r":8},{"b":"u","p":0.4027,"f":82,"r":3},{"b":"u","p":0.4029,"f":78,"r":-1},
{"b":"u","p":0.4031,"f":83,"r":5},{"b":"u","p":0.4033,"f":78,"r":0},{"b":"u","p":0.4035,"f":81,"r":3},{"b":"u","p":0.4037,"f":75,"r":-3},{"b":"u","p":0.4039,"f":78,"r":1},{"b":"u","p":0.4041,"f":72,"r":-5},{"b":"u","p":0.4043,"f":79,"r":2},{"b":"u","p":0.4045,"f":77,"r":0},{"b":"u","p":0.4047,"f":74,"r":-3},{"b":"u","p":0.4049,"f":78,"r":1},
{"b":"u","p":0.4051,"f":75,"r":-2},{"b":"u","p":0.4053,"f":80,"r":3},{"b":"u","p":0.4055,"f":77,"r":0},{"b":"u","p":0.4057,"f":73,"r":-4},{"b":"u","p":0.4059,"f":79,"r":2},{"b":"u","p":0.4061,"f":83,"r":6},{"b":"u","p":0.4063,"f":78,"r":1},{"b":"u","p":0.4065,"f":81,"r":4},{"b":"u","p":0.4067,"f":77,"r":0}
]},
"spacing":0,
"vconcat":[
{"data":{"name":"obs"},
 "bounds":"flush",
 "transform":[{"lookup":"b","from":{"data":{"name":"bands"},"key":"b","fields":["d","rd","err"]}}],
 "facet":{"column":{"field":"b","type":"nominal","sort":["z","i","r","g","u"],"header":{"title":null,"labelExpr":"datum.value + 'ₛ'","labelFont":"Liberation Serif, Times New Roman, DejaVu Serif, serif","labelFontSize":19,"labelFontStyle":"italic","labelPadding":3}}},
 "spacing":21.5,
 "spec":{"width":111.5,"height":162,
  "layer":[
   {"mark":{"type":"circle","size":28,"opacity":0.33,"clip":true},
    "encoding":{
     "x":{"field":"p","type":"quantitative","scale":{"domain":[0.39462,0.40718],"nice":false,"zero":false},"axis":null},
     "y":{"field":"f","type":"quantitative","scale":{"domain":[0,270],"nice":false},"axis":{"values":[0,100,200],"title":"Flux (μJy)","titlePadding":8}},
     "color":{"field":"b","type":"nominal","scale":{"domain":["z","i","r","g","u"],"range":["#a52a2a","#d62728","#ffa500","#006400","#1f77b4"]},"legend":null}}},
   {"transform":[{"filter":"isValid(datum.m)"}],
    "mark":{"type":"line","color":"black","strokeWidth":1.7},
    "encoding":{
     "x":{"field":"p","type":"quantitative","axis":null},
     "y":{"field":"m","type":"quantitative","axis":{"values":[0,100,200],"title":"Flux (μJy)","titlePadding":8}}}},
   {"mark":{"type":"rule","color":"black","strokeDash":[6,3],"strokeWidth":1.5},
    "encoding":{"y":{"field":"d","aggregate":"mean","type":"quantitative","axis":{"values":[0,100,200],"title":"Flux (μJy)","titlePadding":8}}}}
  ]}},
{"data":{"name":"obs"},
 "bounds":"flush",
 "transform":[{"lookup":"b","from":{"data":{"name":"bands"},"key":"b","fields":["d","rd","err"]}}],
 "facet":{"column":{"field":"b","type":"nominal","sort":["z","i","r","g","u"],"header":{"labels":false,"labelOrient":"bottom","labelPadding":0,"title":"Orbital Phase","titleOrient":"bottom","titleFont":"Liberation Serif, Times New Roman, DejaVu Serif, serif","titleFontSize":17,"titleFontWeight":"normal","titlePadding":-8}}},
 "spacing":21.5,
 "spec":{"width":111.5,"height":73,
  "layer":[
   {"mark":{"type":"errorbar","thickness":1.8,"opacity":0.9,"clip":true},
    "encoding":{
     "x":{"field":"p","type":"quantitative","scale":{"domain":[0.39462,0.40718],"nice":false,"zero":false},"axis":{"values":[0.395,0.4,0.405],"format":".3f","title":null}},
     "y":{"field":"r","type":"quantitative","scale":{"domain":[-17.3,26],"nice":false,"zero":false},"axis":{"values":[0,25],"title":"Resid (μJy)","titlePadding":6}},
     "yError":{"field":"err"},
     "color":{"field":"b","type":"nominal","scale":{"domain":["z","i","r","g","u"],"range":["#a52a2a","#d62728","#ffa500","#006400","#1f77b4"]},"legend":null}}},
   {"mark":{"type":"circle","size":16,"opacity":0.95,"clip":true},
    "encoding":{
     "x":{"field":"p","type":"quantitative","axis":{"values":[0.395,0.4,0.405],"format":".3f","title":null}},
     "y":{"field":"r","type":"quantitative","axis":{"values":[0,25],"title":"Resid (μJy)","titlePadding":6}},
     "color":{"field":"b","type":"nominal","legend":null}}},
   {"mark":{"type":"rule","color":"black","strokeDash":[6,3],"strokeWidth":1.2},
    "encoding":{"y":{"field":"rd","aggregate":"mean","type":"quantitative","axis":{"values":[0,25],"title":"Resid (μJy)","titlePadding":6}}}}
  ]}}
]
}
